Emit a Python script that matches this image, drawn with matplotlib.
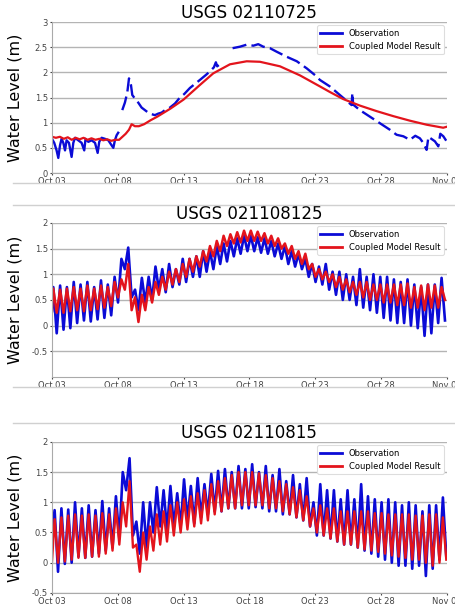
import numpy as np
import matplotlib
matplotlib.use("Agg")
import matplotlib.pyplot as plt
from matplotlib.lines import Line2D

# days since Oct 03 00:00
tick_days = [0, 5, 10, 15, 20, 25, 30]
tick_labels = ["Oct 03", "Oct 08", "Oct 13", "Oct 18", "Oct 23", "Oct 28", "Nov 02"]

titles = ["USGS 02110725", "USGS 021108125", "USGS 02110815"]

# ---- USGS 02110725 (observation has gaps) ----
obs1_day = [0.02, 0.17, 0.35, 0.48, 0.61, 0.73, 0.86, 0.99, 1.11, 1.29,
            1.49, 1.62, 1.75, 2.00, 2.25, 2.45, 2.55, 2.76, 3.01, 3.27,
            3.47, 3.59, 3.77, 4.02, 4.28, 4.53, 4.66, 4.78, 4.91, 5.03,
            5.20, 5.34, 5.54, 5.72, 5.85, 6.00, 6.10, 6.30, 6.55, 6.81,
            7.06, 7.31, 7.56, 7.82, 8.07, 8.33, 8.58, 8.96, 9.34, 9.72,
            10.05, 10.48, 11.24, 11.70, 12.00, 12.30, 12.45, 12.55, 12.70, 13.10,
            13.72, 14.28, 14.79, 15.30, 15.67, 16.05, 16.56, 17.07, 17.83, 18.60,
            19.35, 20.10, 20.35, 21.11, 21.87, 22.50, 22.76, 22.82, 22.88, 23.39,
            24.15, 24.91, 25.67, 26.18, 26.69, 27.19, 27.60, 27.95, 28.20, 28.33,
            28.46, 28.60, 28.71, 29.09, 29.35, 29.50, 29.73, 29.98]
obs1_val = [0.67, 0.60, 0.45, 0.30, 0.55, 0.68, 0.60, 0.45, 0.65, 0.60,
            0.32, 0.60, 0.70, 0.65, 0.60, 0.45, 0.68, 0.62, 0.65, 0.60,
            0.40, 0.62, 0.70, 0.68, 0.65, 0.55, 0.50, 0.65, 0.75, 0.80,
            np.nan, 1.25, 1.40, 1.60, 1.88, 1.75, 1.55, 1.48, 1.40, 1.30,
            1.25, 1.20, 1.17, 1.15, 1.18, 1.20, 1.25, 1.30, 1.38, 1.50,
            1.57, 1.69, 1.85, 1.95, 2.02, 2.10, 2.20, 2.12, 2.15, np.nan,
            2.48, 2.51, 2.55, 2.53, 2.56, 2.51, 2.48, 2.41, 2.31, 2.22,
            2.08, 1.92, 1.85, 1.72, 1.55, 1.41, 1.35, 1.59, 1.36, 1.25,
            1.12, 0.99, 0.86, 0.76, 0.73, 0.66, 0.74, 0.69, 0.60, 0.53,
            0.46, 0.72, 0.70, 0.63, 0.53, 0.78, 0.73, 0.63]

mod1_day = [0.0, 0.3, 0.6, 0.9, 1.2, 1.5, 1.8, 2.1, 2.4, 2.7,
            3.0, 3.3, 3.6, 3.9, 4.2, 4.5, 4.8, 5.1, 5.35, 5.6,
            5.85, 6.05, 6.3, 6.6, 7.0, 7.5, 8.0, 8.5, 9.0, 9.5,
            10.0, 11.24, 12.25, 13.52, 14.79, 15.8, 17.32, 18.84, 20.36, 21.11,
            22.12, 23.39, 24.66, 25.93, 27.19, 28.46, 29.72, 30.0]
mod1_val = [0.72, 0.70, 0.72, 0.68, 0.71, 0.66, 0.70, 0.67, 0.70, 0.66,
            0.69, 0.66, 0.68, 0.65, 0.67, 0.64, 0.66, 0.66, 0.72, 0.78,
            0.86, 0.97, 0.93, 0.93, 0.97, 1.05, 1.12, 1.20, 1.28, 1.37,
            1.46, 1.75, 1.98, 2.16, 2.22, 2.21, 2.12, 1.94, 1.72, 1.61,
            1.47, 1.34, 1.23, 1.13, 1.04, 0.96, 0.90, 0.92]

# ---- tidal stations: one high and one low per tidal cycle ----
cycle_days = 0.5175
obs2_start, mod2_start = 0.28, 0.30
obs2_high = [0.75, 0.78, 0.75, 0.85, 0.80, 0.85, 0.75, 0.88, 0.80, 0.95,
             1.30, 1.52, 0.70, 0.93, 0.95, 1.15, 1.10, 1.20, 1.10, 1.30,
             1.30, 1.35, 1.45, 1.45, 1.55, 1.60, 1.65, 1.70, 1.75, 1.75,
             1.72, 1.70, 1.65, 1.60, 1.55, 1.45, 1.40, 1.30, 1.20, 1.15,
             1.20, 1.05, 1.05, 1.00, 0.95, 1.10, 0.95, 1.00, 0.95, 0.95,
             0.90, 0.85, 0.90, 0.80, 0.75, 0.80, 0.80, 0.93]
obs2_low = [-0.15, -0.08, -0.05, 0.05, 0.10, 0.08, 0.12, 0.15, 0.20, 0.45,
            1.10, 0.55, 0.30, 0.45, 0.50, 0.70, 0.65, 0.75, 0.80, 0.85,
            0.95, 0.95, 1.05, 1.10, 1.20, 1.25, 1.35, 1.40, 1.45, 1.45,
            1.42, 1.40, 1.35, 1.30, 1.20, 1.15, 1.10, 0.95, 0.85, 0.80,
            0.70, 0.60, 0.50, 0.50, 0.40, 0.35, 0.30, 0.25, 0.15, 0.10,
            0.05, 0.05, 0.00, -0.05, -0.20, -0.15, 0.05, 0.10]
mod2_high = [0.72, 0.70, 0.72, 0.75, 0.72, 0.78, 0.72, 0.78, 0.75, 0.85,
             0.90, 1.20, 0.55, 0.60, 0.75, 0.85, 0.95, 1.05, 1.10, 1.20,
             1.30, 1.35, 1.45, 1.55, 1.65, 1.75, 1.78, 1.82, 1.85, 1.85,
             1.83, 1.80, 1.75, 1.70, 1.60, 1.55, 1.45, 1.40, 1.20, 1.10,
             1.05, 1.00, 0.95, 0.90, 0.85, 0.85, 0.85, 0.80, 0.80, 0.80,
             0.80, 0.80, 0.82, 0.75, 0.78, 0.80, 0.78, 0.75]
mod2_low = [0.25, 0.25, 0.28, 0.30, 0.28, 0.30, 0.32, 0.35, 0.38, 0.55,
            0.70, 0.30, 0.07, 0.30, 0.45, 0.60, 0.70, 0.80, 0.85, 0.95,
            1.05, 1.15, 1.25, 1.35, 1.45, 1.55, 1.60, 1.62, 1.65, 1.65,
            1.65, 1.60, 1.55, 1.50, 1.40, 1.30, 1.20, 1.10, 0.95, 0.90,
            0.85, 0.75, 0.70, 0.65, 0.60, 0.55, 0.50, 0.50, 0.45, 0.45,
            0.40, 0.40, 0.35, 0.35, 0.30, 0.35, 0.35, 0.50]

obs3_start, mod3_start = 0.50, 0.02
obs3_high = [0.87, 0.90, 0.88, 1.00, 0.90, 0.95, 0.87, 1.02, 0.90, 1.10,
             1.50, 1.73, 0.68, 1.00, 1.00, 1.25, 1.20, 1.27, 1.15, 1.38,
             1.27, 1.40, 1.30, 1.47, 1.52, 1.55, 1.50, 1.60, 1.55, 1.63,
             1.50, 1.60, 1.45, 1.55, 1.35, 1.45, 1.30, 1.40, 1.00, 1.30,
             1.20, 1.20, 1.05, 1.20, 1.05, 1.30, 1.10, 1.05, 1.00, 1.05,
             1.00, 0.95, 1.00, 0.95, 0.85, 0.95, 0.95, 1.08]
obs3_low = [-0.15, -0.02, 0.00, 0.10, 0.08, 0.10, 0.15, 0.20, 0.25, 0.40,
            1.20, 0.45, 0.15, 0.25, 0.50, 0.60, 0.55, 0.60, 0.60, 0.70,
            0.65, 0.75, 0.80, 0.85, 0.85, 0.90, 0.90, 0.90, 0.90, 0.92,
            0.90, 0.85, 0.85, 0.80, 0.80, 0.75, 0.70, 0.60, 0.45, 0.45,
            0.40, 0.35, 0.30, 0.30, 0.25, 0.20, 0.15, 0.10, 0.05, 0.00,
            -0.05, -0.05, -0.10, -0.05, -0.22, -0.10, 0.05, 0.10]
mod3_high = [0.72, 0.75, 0.78, 0.80, 0.78, 0.80, 0.78, 0.82, 0.80, 0.90,
             1.00, 1.35, 0.30, 0.50, 0.60, 0.80, 0.85, 0.95, 1.00, 1.05,
             1.10, 1.15, 1.20, 1.30, 1.35, 1.40, 1.45, 1.50, 1.50, 1.50,
             1.48, 1.45, 1.40, 1.35, 1.30, 1.25, 1.20, 1.10, 0.90, 0.95,
             0.90, 0.90, 0.85, 0.85, 0.85, 0.85, 0.85, 0.82, 0.82, 0.80,
             0.80, 0.80, 0.80, 0.78, 0.78, 0.80, 0.80, 0.75]
mod3_low = [0.00, 0.02, 0.05, 0.08, 0.08, 0.10, 0.10, 0.15, 0.20, 0.30,
            0.60, 0.25, -0.15, 0.05, 0.20, 0.30, 0.35, 0.45, 0.50, 0.55,
            0.60, 0.65, 0.70, 0.80, 0.85, 0.90, 0.90, 0.95, 0.95, 0.95,
            0.95, 0.90, 0.90, 0.85, 0.80, 0.75, 0.70, 0.60, 0.50, 0.45,
            0.40, 0.35, 0.30, 0.30, 0.25, 0.22, 0.20, 0.18, 0.15, 0.12,
            0.10, 0.08, 0.05, 0.05, 0.00, -0.05, 0.00, 0.05]

BLUE = "#0b0bd6"
RED = "#e3141c"


def tide_series(first_high, start, highs, lows):
    # alternate high water / low water, half a tidal cycle apart
    k = np.arange(len(highs))
    t_hi = first_high + k * cycle_days
    t = np.column_stack([t_hi, t_hi + cycle_days / 2]).ravel()
    v = np.column_stack([highs, lows]).ravel()
    return np.r_[0.0, t], np.r_[start, v]


fig = plt.figure(figsize=(4.56, 6.05), dpi=100)
ax1 = fig.add_axes([0.114, 0.714, 0.866, 0.2496])
ax2 = fig.add_axes([0.114, 0.377, 0.866, 0.2545])
ax3 = fig.add_axes([0.114, 0.020, 0.866, 0.2496])

# panel 1
obs1_day = np.array(obs1_day)
obs1_val = np.array(obs1_val)
early = obs1_day < 5.1
ax1.plot(obs1_day[early], obs1_val[early], color=BLUE, lw=1.7)
ax1.plot(obs1_day[~early], obs1_val[~early], color=BLUE, lw=1.7,
         linestyle=(0, (6, 2.2)))
ax1.plot(mod1_day, mod1_val, color=RED, lw=1.6)

# panel 2
t, v = tide_series(0.10, obs2_start, obs2_high, obs2_low)
ax2.plot(t, v, color=BLUE, lw=1.9)
t, v = tide_series(0.10, mod2_start, mod2_high, mod2_low)
ax2.plot(t, v, color=RED, lw=1.8)

# panel 3
t, v = tide_series(0.20, obs3_start, obs3_high, obs3_low)
ax3.plot(t, v, color=BLUE, lw=1.9)
t, v = tide_series(0.20, mod3_start, mod3_high, mod3_low)
ax3.plot(t, v, color=RED, lw=1.7)

limits = [(0, 3), (-1, 2), (-0.5, 2)]
yticks = [[0, 0.5, 1, 1.5, 2, 2.5, 3],
          [-0.5, 0, 0.5, 1, 1.5, 2],
          [-0.5, 0, 0.5, 1, 1.5, 2]]

handles = [Line2D([], [], color=BLUE, lw=2), Line2D([], [], color=RED, lw=2)]

for ax, title, lim, yt in zip([ax1, ax2, ax3], titles, limits, yticks):
    ax.set_xlim(0, 30)
    ax.set_ylim(*lim)
    ax.set_xticks(tick_days)
    ax.set_xticklabels(tick_labels)
    ax.set_yticks(yt)
    ax.set_yticklabels(["%g" % y for y in yt])
    ax.tick_params(labelsize=6, length=1.5, pad=1.5, colors="#444444")
    ax.grid(axis="y", color="#b4b4b4", lw=1.0)
    ax.set_axisbelow(True)
    for s in ["top", "right"]:
        ax.spines[s].set_visible(False)
    for s in ["left", "bottom"]:
        ax.spines[s].set_color("#aaaaaa")
    ax.set_title(title, fontsize=12, pad=2)
    ax.set_ylabel("Water Level (m)", fontsize=11.5)
    ax.yaxis.set_label_coords(-0.075, 0.5)
    leg = ax.legend(handles, ["Observation", "Coupled Model Result"],
                    loc="upper right", fontsize=6, handlelength=2.6,
                    borderaxespad=0.4, framealpha=1)
    leg.get_frame().set_edgecolor("#dddddd")
    leg.get_frame().set_linewidth(0.8)

# faint page rules from the source document
for yy in [0.6975, 0.661, 0.360, 0.3008]:
    fig.add_artist(Line2D([0.0285, 1.0], [yy, yy], color="#d0d0d0", lw=1.0))

fig.savefig("out.png", dpi=100)
